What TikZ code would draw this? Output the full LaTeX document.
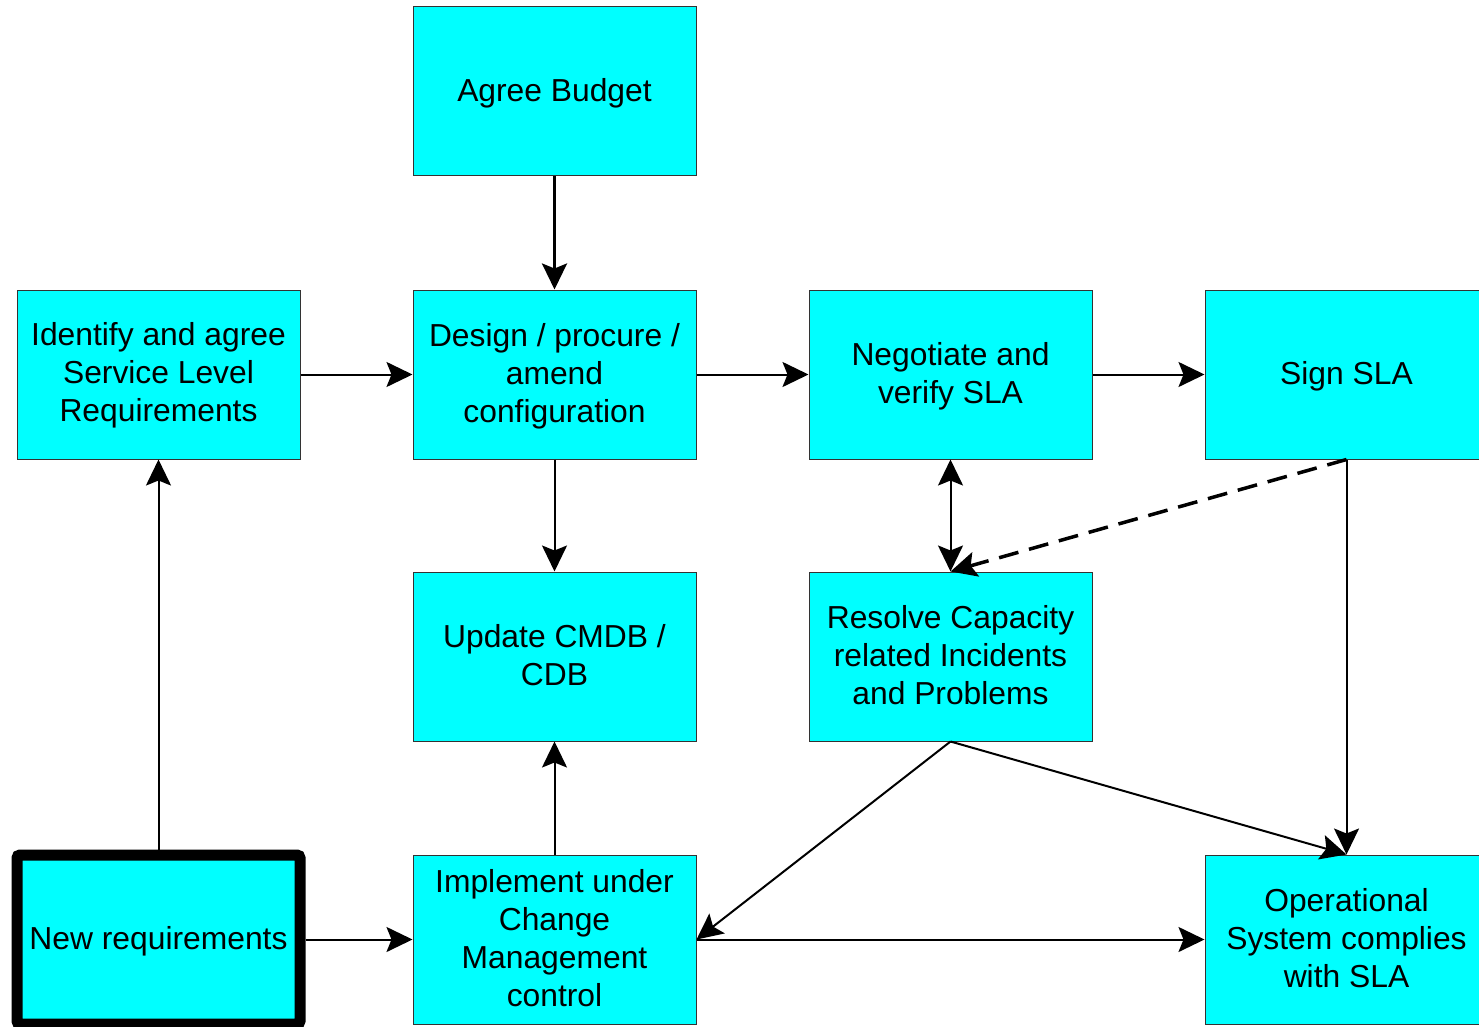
\documentclass[tikz,border=0pt]{standalone}
\usepackage{fontspec}
\setmainfont{Liberation Sans}
\usetikzlibrary{arrows.meta}
\definecolor{boxfill}{HTML}{00FFFF}
\begin{document}
\begin{tikzpicture}[x=1pt,y=-1pt,
  procbox/.style={draw=black!80, line width=1pt, fill=boxfill, rectangle,
    minimum width=283pt, minimum height=169pt, inner sep=0pt},
  startbox/.style={procbox, draw=black, line width=11pt, rounded corners=3pt},
  boxtext/.style={inner sep=0pt, align=center,
    font=\fontsize{31.8pt}{38pt}\selectfont},
  tip/.tip={Stealth[length=26pt,width=25pt,inset=5pt]},
  flow/.style={draw=black, line width=2pt, -tip},
  bothflow/.style={flow, tip-tip},
  dashflow/.style={flow, line width=3.5pt, dash pattern=on 20pt off 11pt}
]
\useasboundingbox (0,0) rectangle (1479,1027);

% process boxes
\node[procbox] (budget)      at (554.5, 91.5)  {};
\node[procbox] (identify)    at (158.5, 374.5) {};
\node[procbox] (design)      at (554.5, 374.5) {};
\node[procbox] (negotiate)   at (950.5, 374.5) {};
\node[procbox] (sign)        at (1346.5, 374.5) {};
\node[procbox] (cmdb)        at (554.5, 656.5) {};
\node[procbox] (resolve)     at (950.5, 656.5) {};
\node[startbox] (newreq)     at (158.5, 939.5) {};
\node[procbox] (implement)   at (554.5, 939.5) {};
\node[procbox] (operational) at (1346.5, 939.5) {};

% box captions (struts give every line the same height, so blocks centre evenly)
\node[boxtext] (tbudget)    at ([yshift=-2pt]budget.center)    {\strut Agree Budget};
\node[boxtext] (tidentify)  at ([yshift=-1.5pt]identify.center)  {\strut Identify and agree\\Service Level\\Requirements\strut};
\node[boxtext] (tdesign)    at ([yshift=-2pt]design.center)    {\strut Design / procure /\\amend\\configuration\strut};
\node[boxtext] (tnegotiate) at ([yshift=-2pt]negotiate.center) {\strut Negotiate and\\verify SLA\strut};
\node[boxtext] (tsign)      at ([yshift=-2pt]sign.center)      {\strut Sign SLA};
\node[boxtext] (tcmdb)      at ([yshift=-2pt]cmdb.center)      {\strut Update CMDB /\\CDB\strut};
\node[boxtext] (tresolve)   at ([yshift=-2pt]resolve.center)   {\strut Resolve Capacity\\related Incidents\\and Problems\strut};
\node[boxtext] (tnewreq)    at ([yshift=-2pt]newreq.center)    {\strut New requirements};
\node[boxtext] (timplement) at ([yshift=-2pt]implement.center) {\strut Implement under\\Change\\Management\\control\strut};
\node[boxtext] (toper)      at ([yshift=-2pt]operational.center) {\strut Operational\\System complies\\with SLA\strut};

% connectors
\draw[flow, line width=3pt] (budget.south) -- (design.north);
\draw[flow] (identify.east) -- (design.west);
\draw[flow] (design.east) -- (negotiate.west);
\draw[flow] (negotiate.east) -- (sign.west);
\draw[flow] (design.south) -- (cmdb.north);
\draw[bothflow] (negotiate.south) -- (resolve.north);
\draw[dashflow] (sign.south) -- (resolve.north);
\draw[flow] (sign.south) -- (operational.north);
\draw[flow] (resolve.south) -- (operational.north);
\draw[flow] (resolve.south) -- (implement.east);
\draw[flow] (implement.east) -- (operational.west);
\draw[flow] (implement.north) -- (cmdb.south);
\draw[flow] (newreq.north) -- (identify.south);
\draw[flow] (newreq.east) -- (implement.west);
\end{tikzpicture}
\end{document}
